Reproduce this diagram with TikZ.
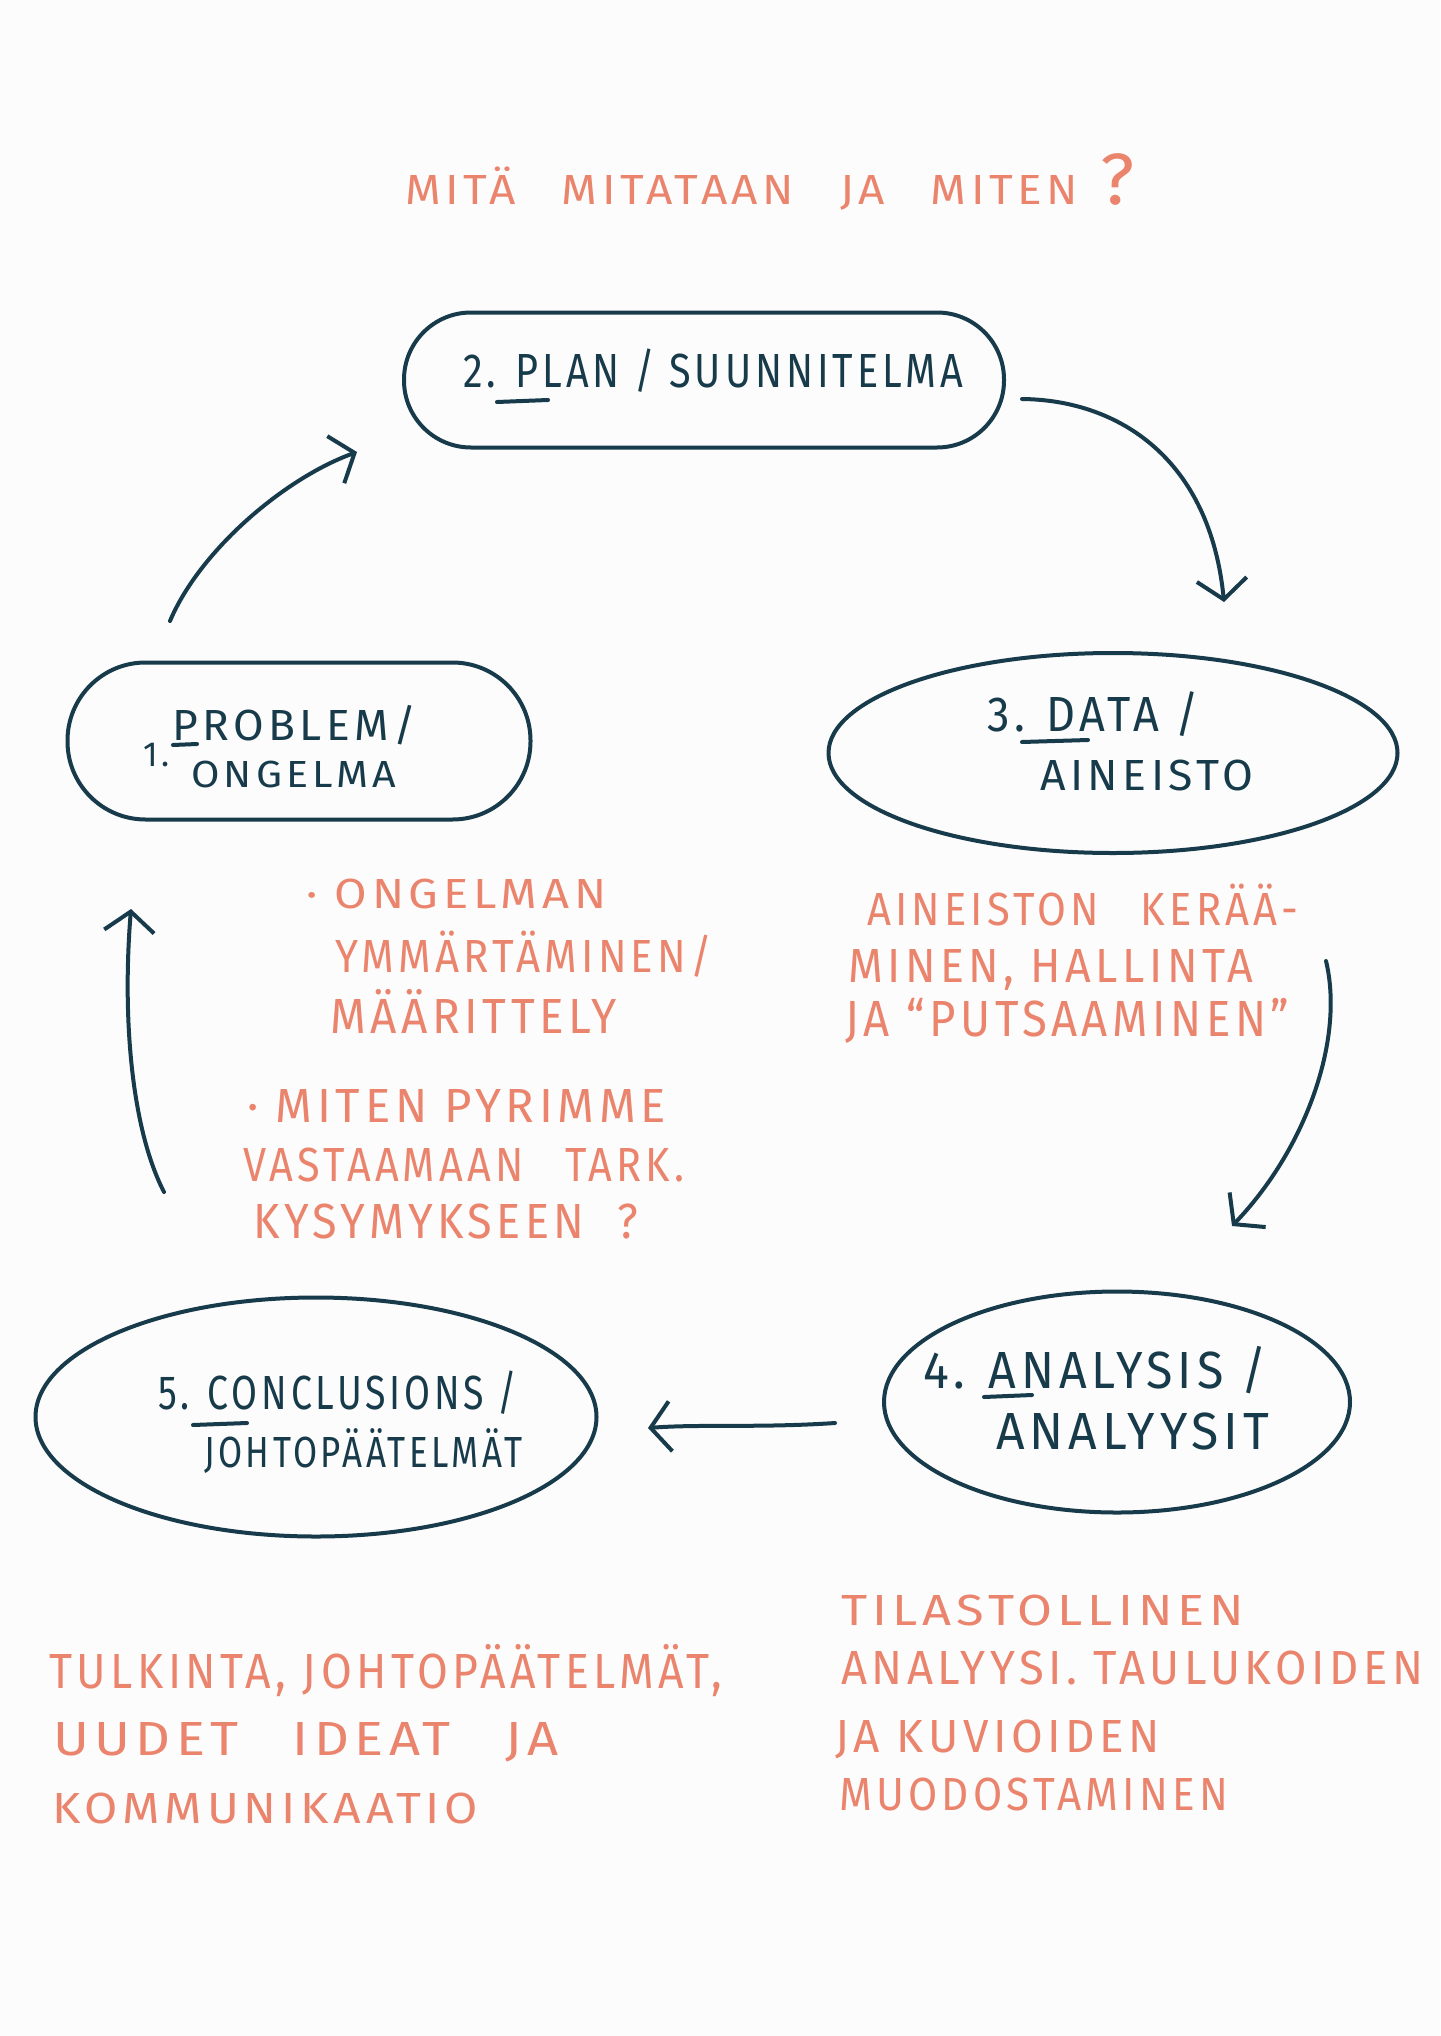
\documentclass[tikz,border=0pt]{standalone}
\usepackage{fontspec}
\usetikzlibrary{arrows.meta,shapes.geometric}
\newfontfamily\hand{Fira Sans}[LetterSpace=10]
\definecolor{ink}{HTML}{173B4A}
\definecolor{coral}{HTML}{EA846D}
\definecolor{paper}{HTML}{FCFCFC}
% #1 width, #2 cap height, #3 text
\newcommand\tw[3]{\resizebox{#1pt}{#2pt}{\hand\fontsize{40}{48}\selectfont\vphantom{H}\smash{#3}}}
\begin{document}
\begin{tikzpicture}[x=1pt,y=-1pt,
  shapeline/.style={draw=ink, line width=4pt},
  darktext/.style={text=ink, anchor=base west, inner sep=0pt},
  notetext/.style={text=coral, anchor=base west, inner sep=0pt},
  flow/.style={draw=ink, line width=4pt, line cap=round, line join=round,
    -{Straight Barb[length=20pt,width=50pt]}},
  ulin/.style={draw=ink, line width=4pt, line cap=round}]
\fill[paper] (0,0) rectangle (1440,2036);
\useasboundingbox (0,0) rectangle (1440,2036);

% title
\node[notetext] (title) at (405,205) {\tw{673}{29}{MITÄ\quad MITATAAN\quad JA\quad MITEN}};
\node[notetext] (titleq) at (1100,205) {\tw{34}{50}{?}};

% shapes
\node[shapeline, rectangle, rounded corners=67pt, minimum width=600pt, minimum height=135pt] (plan) at (704,380) {};
\node[shapeline, rectangle, rounded corners=78pt, minimum width=463pt, minimum height=157pt] (prob) at (299,741) {};
\node[shapeline, ellipse, minimum width=569pt, minimum height=200pt, inner sep=0pt] (data) at (1113,753) {};
\node[shapeline, ellipse, minimum width=466pt, minimum height=221pt, inner sep=0pt] (anal) at (1117,1402) {};
\node[shapeline, ellipse, minimum width=561pt, minimum height=239pt, inner sep=0pt] (conc) at (316,1417) {};

% box labels
\node[darktext] (plant) at (463,387) {\tw{500}{33}{2. PLAN / SUUNNITELMA}};
\draw[ulin] (497,402) -- (548,400);

\node[darktext] (probn) at (143,766) {\tw{26}{24}{1.}};
\node[darktext] (probt) at (172,740) {\tw{244}{30}{PROBLEM/}};
\node[darktext] (probt2) at (191,787) {\tw{205}{26}{ONGELMA}};
\draw[ulin] (173,745) -- (197,744);

\node[darktext] (datat) at (987,731) {\tw{212}{34}{3. DATA /}};
\node[darktext] (datat2) at (1040,790) {\tw{213}{30}{AINEISTO}};
\draw[ulin] (1022,742) -- (1088,740);

\node[darktext] (analt) at (923,1388) {\tw{343}{36}{4. ANALYSIS /}};
\node[darktext] (analt2) at (996,1449) {\tw{273}{36}{ANALYYSIT}};
\draw[ulin] (984,1397) -- (1032,1395);

\node[darktext] (conct) at (158,1409) {\tw{359}{33}{5. CONCLUSIONS /}};
\node[darktext] (conct2) at (204,1467) {\tw{318}{30}{JOHTOPÄÄTELMÄT}};
\draw[ulin] (193,1425) -- (247,1423);

% notes left-middle
\node[notetext] (n1a) at (306,908) {\tw{300}{29}{· ONGELMAN}};
\node[notetext] (n1b) at (335,972) {\tw{377}{32}{YMMÄRTÄMINEN/}};
\node[notetext] (n1c) at (330,1033) {\tw{287}{34}{MÄÄRITTELY}};
\node[notetext] (n1d) at (247,1122) {\tw{419}{33}{· MITEN PYRIMME}};
\node[notetext] (n1e) at (243,1181) {\tw{441}{33}{VASTAAMAAN\quad TARK.}};
\node[notetext] (n1f) at (253,1238) {\tw{385}{34}{KYSYMYKSEEN\ \ ?}};

% notes right-middle
\node[notetext] (n2a) at (867,925) {\tw{431}{32}{AINEISTON\quad KERÄÄ-}};
\node[notetext] (n2b) at (848,982) {\tw{405}{33}{MINEN, HALLINTA}};
\node[notetext] (n2c) at (845,1036) {\tw{444}{35}{JA “PUTSAAMINEN”}};

% notes bottom-left
\node[notetext] (n3a) at (49,1688) {\tw{673}{34}{TULKINTA, JOHTOPÄÄTELMÄT,}};
\node[notetext] (n3b) at (53,1755) {\tw{505}{33}{UUDET\quad IDEAT\quad JA}};
\node[notetext] (n3c) at (52,1823) {\tw{426}{30}{KOMMUNIKAATIO}};

% notes bottom-right
\node[notetext] (n4a) at (841,1625) {\tw{403}{30}{TILASTOLLINEN}};
\node[notetext] (n4b) at (841,1684) {\tw{582}{33}{ANALYYSI. TAULUKOIDEN}};
\node[notetext] (n4c) at (835,1752) {\tw{325}{32}{JA KUVIOIDEN}};
\node[notetext] (n4d) at (839,1810) {\tw{389}{32}{MUODOSTAMINEN}};

% arrow ends
\coordinate (a12s) at (170,621);
\coordinate (a12e) at (357,452);
\coordinate (a23s) at (1022,399);
\coordinate (a23e) at (1224,602);
\coordinate (a34s) at (1326,961);
\coordinate (a34e) at (1232,1226);
\coordinate (a45s) at (835,1423);
\coordinate (a45e) at (648,1428);
\coordinate (a51s) at (164,1192);
\coordinate (a51e) at (131,909);

\draw[flow] (a12s) .. controls (200,550) and (285,478) .. (a12e);
\draw[flow] (a23s) .. controls (1120,400) and (1210,460) .. (a23e);
\draw[flow] (a34s) .. controls (1345,1040) and (1305,1150) .. (a34e);
\draw[flow] (a45s) .. controls (760,1428) and (700,1424) .. (a45e);
\draw[flow] (a51s) .. controls (132,1130) and (122,1020) .. (a51e);
\end{tikzpicture}
\end{document}
